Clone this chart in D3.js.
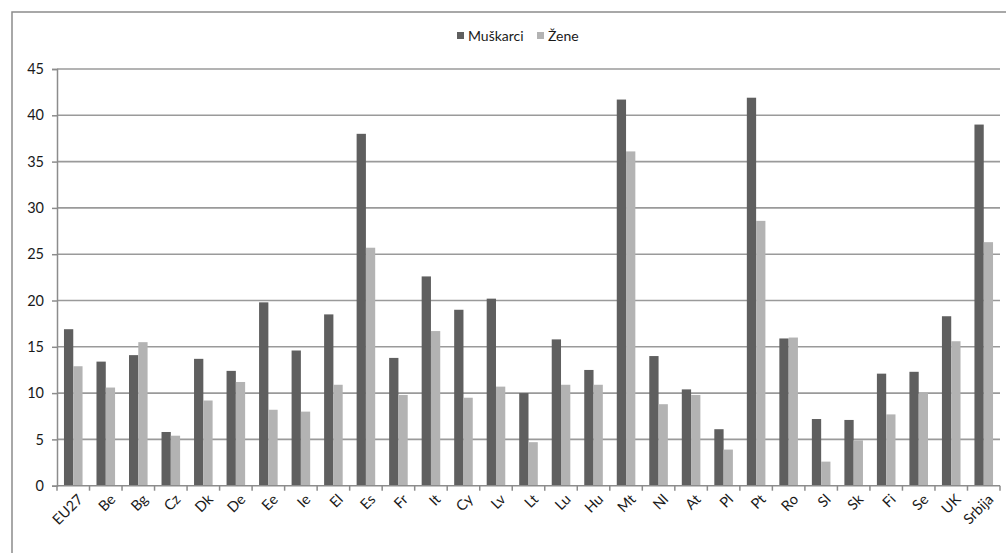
<!DOCTYPE html>
<html>
<head>
<meta charset="utf-8">
<script src="https://cdn.jsdelivr.net/npm/d3@7"></script>
<style>
  html, body { margin: 0; padding: 0; background: #fff; }
  svg { display: block; font-family: Lato, "Open Sans", sans-serif; }
</style>
</head>
<body>
<svg id="chart" width="1006" height="553"></svg>
<script>
// Country codes along the x axis
const categories = ["EU27","Be","Bg","Cz","Dk","De","Ee","Ie","El","Es","Fr","It","Cy","Lv","Lt","Lu","Hu","Mt","Nl","At","Pl","Pt","Ro","Sl","Sk","Fi","Se","UK","Srbija"];
// Series values (percent)
const muskarci = [16.9,13.4,14.1,5.8,13.7,12.4,19.8,14.6,18.5,38.0,13.8,22.6,19.0,20.2,10.0,15.8,12.5,41.7,14.0,10.4,6.1,41.9,15.9,7.2,7.1,12.1,12.3,18.3,39.0];
const zene     = [12.9,10.6,15.5,5.4,9.2,11.2,8.2,8.0,10.9,25.7,9.8,16.7,9.5,10.7,4.7,10.9,10.9,36.1,8.8,9.8,3.9,28.6,16.0,2.6,4.9,7.7,10.0,15.6,26.3];
const seriesNames = ["Muškarci","Žene"];
const yTicks = [0,5,10,15,20,25,30,35,40,45];

const colors = ["#5f5f5f", "#b3b3b3"];
const svg = d3.select("#chart");

// outer frame
svg.append("rect")
  .attr("x", 12).attr("y", 12).attr("width", 1010).attr("height", 560)
  .attr("fill", "none").attr("stroke", "#8c8c8c").attr("stroke-width", 1.5);

const plot = {left: 57, right: 1000, top: 69, bottom: 485.7};

const x = d3.scaleBand().domain(categories).range([plot.left, plot.right]).paddingInner(0).paddingOuter(0);
const y = d3.scaleLinear().domain([0, 45]).range([plot.bottom, plot.top]);
// two bars per group, gap of 1.5 bar widths
const barW = x.bandwidth() / 3.5;
const xs = d3.scaleBand().domain(seriesNames).range([0, barW * 2]);

// horizontal gridlines
svg.append("g").selectAll("line").data(yTicks.filter(d => d > 0)).join("line")
  .attr("x1", plot.left).attr("x2", plot.right)
  .attr("y1", d => y(d)).attr("y2", d => y(d))
  .attr("stroke", "#9a9a9a").attr("stroke-width", 1.6);

// bars
const rows = categories.map((c, i) => ({c, vals: [muskarci[i], zene[i]]}));
const groups = svg.append("g").selectAll("g").data(rows).join("g")
  .attr("transform", d => `translate(${x(d.c) + (x.bandwidth() - barW * 2) / 2},0)`);
groups.selectAll("rect").data(d => d.vals.map((v, k) => ({v, k}))).join("rect")
  .attr("x", d => xs(seriesNames[d.k]))
  .attr("width", xs.bandwidth())
  .attr("y", d => y(d.v))
  .attr("height", d => y(0) - y(d.v))
  .attr("fill", d => colors[d.k]);

// y axis
const yAxis = svg.append("g").attr("transform", `translate(${plot.left},0)`)
  .call(d3.axisLeft(y).tickValues(yTicks).tickSize(5).tickPadding(8).tickFormat(d3.format("d")));
yAxis.select(".domain").attr("stroke", "#8c8c8c").attr("stroke-width", 1.5);
yAxis.selectAll(".tick line").attr("stroke", "#8c8c8c").attr("stroke-width", 1.5);
yAxis.selectAll("text").attr("font-size", 14.5).attr("fill", "#1a1a1a").attr("font-family", "Lato, sans-serif");

// x axis: baseline with tick marks between categories
const xg = svg.append("g");
xg.append("line").attr("x1", plot.left).attr("x2", plot.right)
  .attr("y1", y(0)).attr("y2", y(0)).attr("stroke", "#8c8c8c").attr("stroke-width", 1.5);
const bounds = categories.map(c => x(c)).concat([plot.right]);
xg.selectAll("line.tk").data(bounds).join("line").attr("class", "tk")
  .attr("x1", d => d).attr("x2", d => d)
  .attr("y1", y(0)).attr("y2", y(0) + 5)
  .attr("stroke", "#8c8c8c").attr("stroke-width", 1.5);
// category labels, slanted 45 degrees, ending under each group
xg.selectAll("text.lab").data(categories).join("text").attr("class", "lab")
  .attr("text-anchor", "end")
  .attr("dy", "0.35em")
  .attr("font-size", 14.5)
  .attr("fill", "#1a1a1a")
  .attr("transform", d => `translate(${x(d) + x.bandwidth() / 2 + 7},${y(0) + 11}) rotate(-45)`)
  .text(d => d);

// legend
const legend = svg.append("g").attr("transform", "translate(457,36)");
const legendX = [0, 80];
seriesNames.forEach((name, k) => {
  const g = legend.append("g").attr("transform", `translate(${legendX[k]},0)`);
  g.append("rect").attr("x", 0).attr("y", -4).attr("width", 7).attr("height", 7).attr("fill", colors[k]);
  g.append("text").attr("x", 11).attr("y", 0).attr("dy", "0.35em")
    .attr("font-size", 14).attr("fill", "#1a1a1a").text(name);
});
</script>
</body>
</html>
